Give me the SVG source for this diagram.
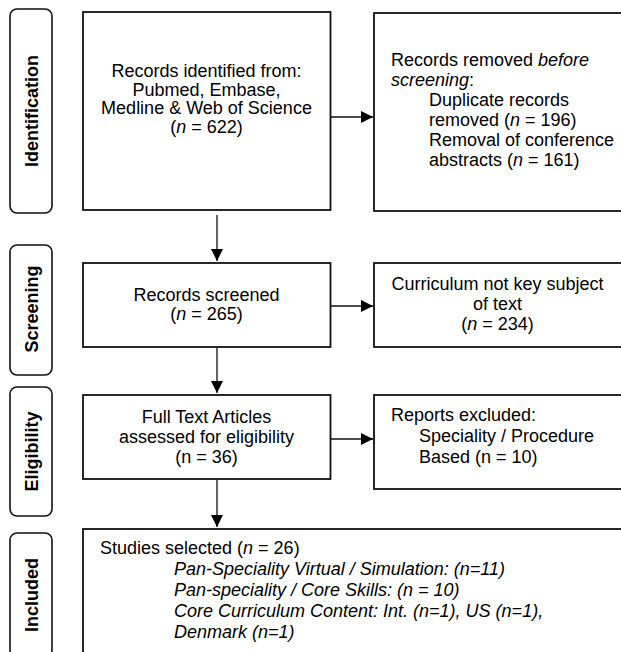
<svg xmlns="http://www.w3.org/2000/svg" width="621" height="652" viewBox="0 0 621 652">
<style>
  .box { fill: #ffffff; stroke: #111111; stroke-width: 1.8; }
  .phase { fill: #ffffff; stroke: #111111; stroke-width: 1.6; }
  .t { font-family: "Liberation Sans", Arial, sans-serif; font-size: 18px; fill: #000000; }
  .c { text-anchor: middle; }
  .ph { font-family: "Liberation Sans", Arial, sans-serif; font-size: 18px; font-weight: bold; fill: #000000; text-anchor: middle; }
  .conn { fill: none; stroke: #111111; stroke-width: 1.3; }
</style>
<defs>
  <marker id="ah" viewBox="0 0 12 12" refX="12" refY="6" markerWidth="12" markerHeight="12" markerUnits="userSpaceOnUse" orient="auto">
    <path d="M0,0 L12,6 L0,12 Z" fill="#000000"/>
  </marker>
</defs>
<rect x="0" y="0" width="621" height="652" fill="#ffffff"/>

<g id="phase-identification">
  <rect class="phase" x="10" y="9" width="42" height="204" rx="7"/>
  <text class="ph" x="31" y="118" transform="rotate(-90 31 111)">Identification</text>
</g>
<g id="phase-screening">
  <rect class="phase" x="10" y="245" width="42" height="130" rx="7"/>
  <text class="ph" x="31" y="316" transform="rotate(-90 31 309)">Screening</text>
</g>
<g id="phase-eligibility">
  <rect class="phase" x="10" y="387" width="42" height="129" rx="7"/>
  <text class="ph" x="31" y="458.5" transform="rotate(-90 31 451.5)">Eligibility</text>
</g>
<g id="phase-included">
  <rect class="phase" x="10" y="533" width="42" height="124" rx="7"/>
  <text class="ph" x="31" y="602" transform="rotate(-90 31 595)">Included</text>
</g>

<g id="node-identified">
  <rect class="box" x="83" y="12" width="247.5" height="198"/>
  <text class="t c" x="206.5" y="77">Records identified from:</text>
  <text class="t c" x="206.5" y="95.5">Pubmed, Embase,</text>
  <text class="t c" x="206.5" y="114">Medline &amp; Web of Science</text>
  <text class="t c" x="206.5" y="132.5">(<tspan font-style="italic">n</tspan> = 622)</text>
</g>
<g id="node-removed">
  <rect class="box" x="374" y="13" width="252" height="198"/>
  <text class="t" x="391" y="66">Records removed <tspan font-style="italic">before</tspan></text>
  <text class="t" x="391" y="86"><tspan font-style="italic">screening</tspan>:</text>
  <text class="t" x="429" y="106">Duplicate records</text>
  <text class="t" x="429" y="126">removed (<tspan font-style="italic">n</tspan> = 196)</text>
  <text class="t" x="429" y="146">Removal of conference</text>
  <text class="t" x="429" y="166">abstracts (<tspan font-style="italic">n</tspan> = 161)</text>
</g>
<g id="node-screened">
  <rect class="box" x="83" y="263" width="247.5" height="84"/>
  <text class="t c" x="206.5" y="301">Records screened</text>
  <text class="t c" x="206.5" y="320">(<tspan font-style="italic">n</tspan> = 265)</text>
</g>
<g id="node-curriculum">
  <rect class="box" x="374" y="263" width="252" height="84"/>
  <text class="t c" x="497.5" y="290">Curriculum not key subject</text>
  <text class="t c" x="497.5" y="310">of text</text>
  <text class="t c" x="497.5" y="330">(<tspan font-style="italic">n</tspan> = 234)</text>
</g>
<g id="node-fulltext">
  <rect class="box" x="83" y="395" width="247.5" height="84"/>
  <text class="t c" x="206.5" y="423">Full Text Articles</text>
  <text class="t c" x="206.5" y="443">assessed for eligibility</text>
  <text class="t c" x="206.5" y="463">(n = 36)</text>
</g>
<g id="node-excluded">
  <rect class="box" x="374" y="395" width="252" height="94"/>
  <text class="t" x="391" y="421">Reports excluded:</text>
  <text class="t" x="419" y="442">Speciality / Procedure</text>
  <text class="t" x="419" y="463">Based (n = 10)</text>
</g>
<g id="node-included">
  <rect class="box" x="83" y="529" width="545" height="130"/>
  <text class="t" x="100" y="554">Studies selected (<tspan font-style="italic">n</tspan> = 26)</text>
  <text class="t" x="174" y="575" font-style="italic">Pan-Speciality Virtual / Simulation: (n=11)</text>
  <text class="t" x="174" y="596" font-style="italic">Pan-speciality / Core Skills: (n = 10)</text>
  <text class="t" x="174" y="617" font-style="italic">Core Curriculum Content: Int. (n=1), US (n=1),</text>
  <text class="t" x="174" y="637.5" font-style="italic">Denmark (n=1)</text>
</g>

<g id="connectors">
  <path class="conn" d="M331,117 H373" marker-end="url(#ah)"/>
  <path class="conn" d="M217,215 V261" marker-end="url(#ah)"/>
  <path class="conn" d="M331,306 H373" marker-end="url(#ah)"/>
  <path class="conn" d="M217,348 V393" marker-end="url(#ah)"/>
  <path class="conn" d="M331,439 H373" marker-end="url(#ah)"/>
  <path class="conn" d="M217,480 V527" marker-end="url(#ah)"/>
</g>
</svg>
